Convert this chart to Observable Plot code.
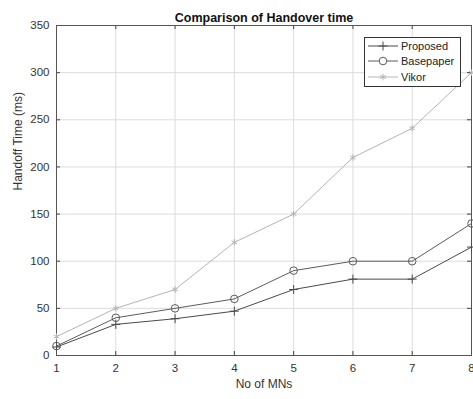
<!DOCTYPE html>
<html><head><meta charset="utf-8">
<script src="https://cdn.jsdelivr.net/npm/d3@7"></script>
<script src="https://cdn.jsdelivr.net/npm/@observablehq/plot@0.6"></script>
<style>
body{margin:0;background:#fff;font-family:"Liberation Sans",Arial,Helvetica,sans-serif}
#chart{position:relative;width:473px;height:399px;overflow:hidden}
#legend{position:absolute;left:364px;top:37px;width:95px;height:48px;border:1px solid #333;background:#fff;font-size:11px;color:#222}
#legend .row{display:flex;align-items:center;height:15.5px;margin-left:3px}
#legend .row span{margin-left:3px}
</style>
</head><body>
<div id="chart"></div>
<script>
const mns = [1, 2, 3, 4, 5, 6, 7, 8];
const proposed = [9, 33, 39, 47, 70, 81, 81, 115];
const basepaper = [10, 40, 50, 60, 90, 100, 100, 140];
const vikor = [20, 50, 70, 120, 150, 210, 241, 300];
const xTicks = [1, 2, 3, 4, 5, 6, 7, 8];
const yTicks = [0, 50, 100, 150, 200, 250, 300, 350];
const seriesNames = ["Proposed", "Basepaper", "Vikor"];
const seriesColors = ["#4a4a4a", "#5c5c5c", "#b4b4b4"];
const seriesSymbols = ["plus", "circle", "asterisk"];
const titleText = "Comparison of Handover time";
const xLabel = "No of MNs";
const yLabel = "Handoff Time (ms)";

const seriesValues = [proposed, basepaper, vikor];
const rows = [];
seriesNames.forEach((name, i) => mns.forEach((m, j) => rows.push({series: name, x: m, y: seriesValues[i][j]})));

const W = 473, H = 399, mL = 56, mR = 2, mT = 25, mB = 44;
const plotW = W - mL - mR, plotH = H - mT - mB;
const font = "Liberation Sans, Arial, Helvetica, sans-serif";

const marks = [
  Plot.gridX(xTicks, {stroke: "#dcdcdc", strokeOpacity: 1}),
  Plot.gridY(yTicks, {stroke: "#dcdcdc", strokeOpacity: 1}),
  Plot.tickX(xTicks, {x: d => d, insetTop: plotH - 4, stroke: "#444"}),
  Plot.tickX(xTicks, {x: d => d, insetBottom: plotH - 4, stroke: "#444"}),
  Plot.tickY(yTicks, {y: d => d, insetRight: plotW - 4, stroke: "#444"}),
  Plot.tickY(yTicks, {y: d => d, insetLeft: plotW - 4, stroke: "#444"}),
  Plot.frame({stroke: "#555"}),
  Plot.axisX({ticks: xTicks, tickSize: 0, tickPadding: 8, label: null, fontSize: 11.5, fill: "#333", tickFormat: d => d}),
  Plot.axisY({ticks: yTicks, tickSize: 0, tickPadding: 7, label: null, fontSize: 11.5, fill: "#333", tickFormat: d => d})
];
const symbolR = {plus: 3, circle: 3.8, asterisk: 3};
seriesNames.forEach((name, i) => {
  const data = rows.filter(r => r.series === name);
  marks.push(Plot.line(data, {x: "x", y: "y", stroke: seriesColors[i], strokeWidth: 1}));
  marks.push(Plot.dot(data, {x: "x", y: "y", symbol: seriesSymbols[i], stroke: seriesColors[i], fill: "none", r: symbolR[seriesSymbols[i]], strokeWidth: 1}));
});
marks.push(Plot.text([titleText], {frameAnchor: "top", dy: -12, fontWeight: "bold", fontSize: 12.5, fill: "#111"}));
marks.push(Plot.text([xLabel], {frameAnchor: "bottom", dy: 32, fontSize: 12, fill: "#333"}));
marks.push(Plot.text([yLabel], {frameAnchor: "left", dx: -38, rotate: -90, fontSize: 12, fill: "#333"}));

const chart = Plot.plot({
  width: W, height: H,
  marginLeft: mL, marginRight: mR, marginTop: mT, marginBottom: mB,
  style: {fontFamily: font, background: "#fff"},
  x: {domain: [1, 8]},
  y: {domain: [0, 350]},
  marks
});
const container = document.getElementById("chart");
container.appendChild(chart);

// legend
const legend = document.createElement("div");
legend.id = "legend";
const symMap = {plus: d3.symbolPlus, circle: d3.symbolCircle, asterisk: d3.symbolAsterisk};
seriesNames.forEach((name, i) => {
  const row = document.createElement("div");
  row.className = "row";
  const svg = d3.create("svg").attr("width", 30).attr("height", 12);
  svg.append("line").attr("x1", 0).attr("x2", 30).attr("y1", 6).attr("y2", 6).attr("stroke", seriesColors[i]);
  const rr = symbolR[seriesSymbols[i]];
  svg.append("path").attr("transform", "translate(15,6)")
    .attr("d", d3.symbol(symMap[seriesSymbols[i]], Math.PI * rr * rr)())
    .attr("fill", seriesSymbols[i] === "circle" ? "#fff" : "none").attr("stroke", seriesColors[i]);
  row.appendChild(svg.node());
  const label = document.createElement("span");
  label.textContent = name;
  row.appendChild(label);
  legend.appendChild(row);
});
container.appendChild(legend);
</script>
</body></html>
